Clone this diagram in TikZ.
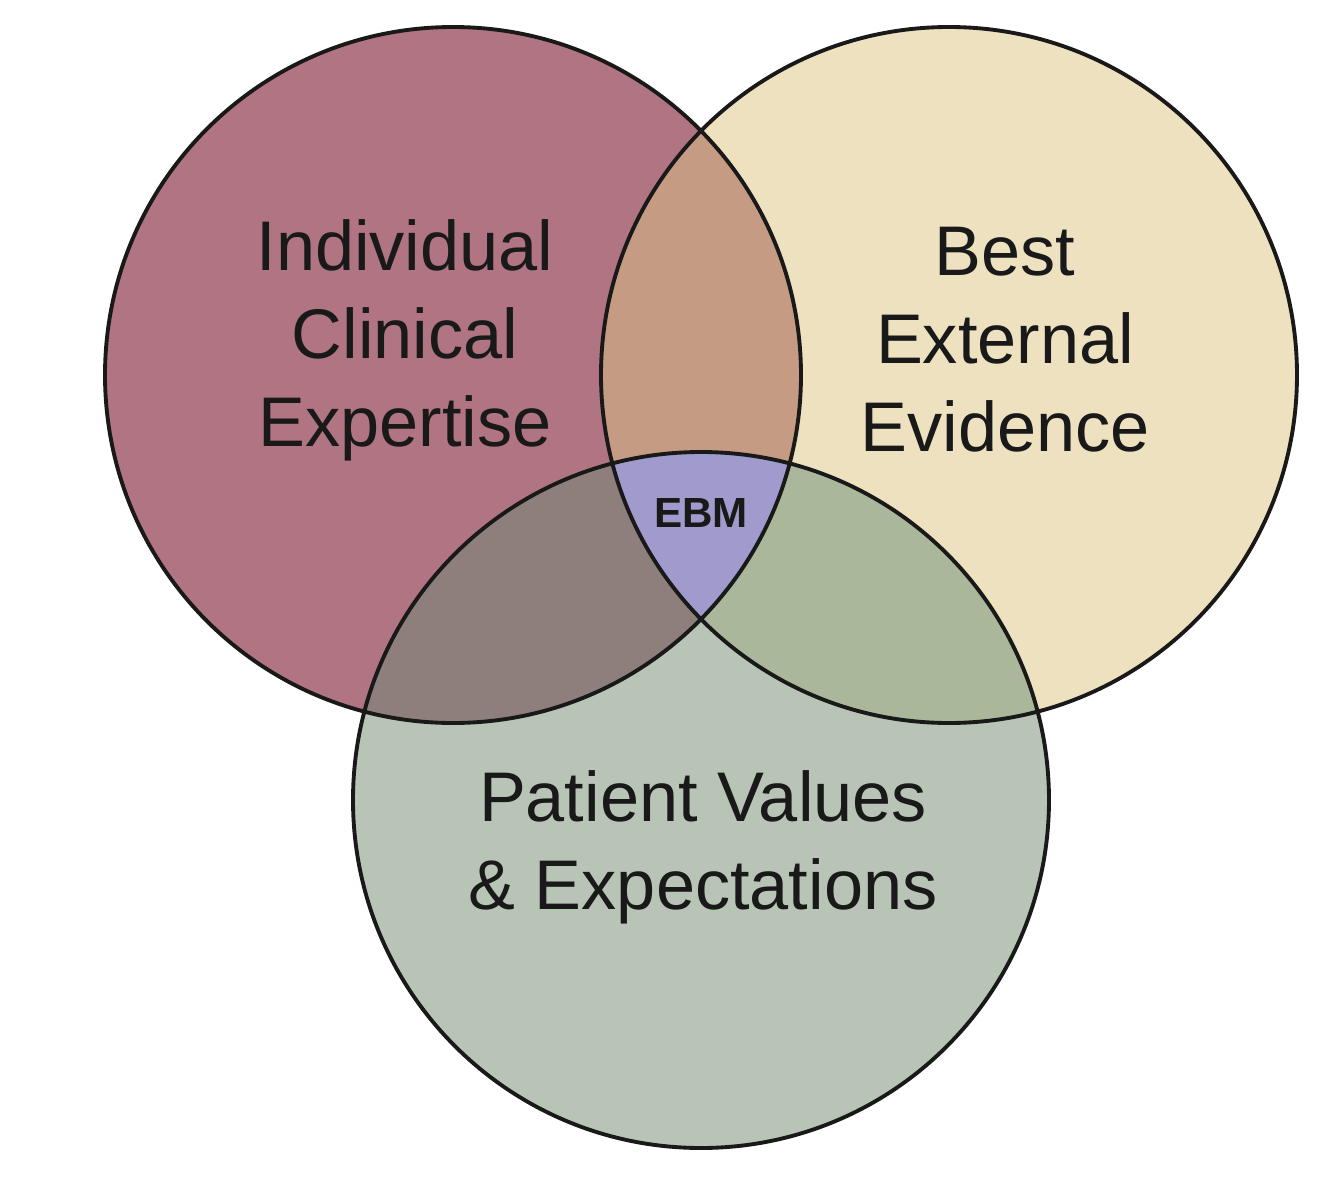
\documentclass[tikz,border=0pt]{standalone}
\usepackage{fontspec}
\setmainfont{Liberation Sans}
\begin{document}
\begin{tikzpicture}[x=0.02cm,y=-0.02cm,
  lbl/.style={align=center,font=\fontsize{40}{50}\selectfont,text=black!90}]
\useasboundingbox[fill=white] (0,0) rectangle (1340,1200);
\coordinate (L) at (453,375);
\coordinate (R) at (949,375);
\coordinate (B) at (701,800);
\def\rr{348}
\fill[fill={rgb,255:red,176;green,116;blue,130}] (L) circle[radius=\rr];
\fill[fill={rgb,255:red,238;green,225;blue,192}] (R) circle[radius=\rr];
\fill[fill={rgb,255:red,184;green,196;blue,182}] (B) circle[radius=\rr];
\begin{scope}\clip (L) circle[radius=\rr];
  \fill[fill={rgb,255:red,198;green,155;blue,132}] (R) circle[radius=\rr];
  \fill[fill={rgb,255:red,142;green,127;blue,124}] (B) circle[radius=\rr];
  \clip (R) circle[radius=\rr];
  \fill[fill={rgb,255:red,160;green,155;blue,204}] (B) circle[radius=\rr];
\end{scope}
\begin{scope}\clip (R) circle[radius=\rr];
  \clip (B) circle[radius=\rr];
  \fill[fill={rgb,255:red,170;green,183;blue,154}] (L) ++(-400,-400) rectangle ++(1200,1200);
  \clip (L) circle[radius=\rr];
  \fill[fill={rgb,255:red,160;green,155;blue,204}] (B) circle[radius=\rr];
\end{scope}
\draw[line width=2.2pt,black!90] (L) circle[radius=\rr] (R) circle[radius=\rr] (B) circle[radius=\rr];
\node[lbl] (tl) at (405,340) {Individual\\Clinical\\Expertise};
\node[lbl] (tr) at (1005,340) {Best\\External\\Evidence};
\node[lbl] (tb) at (703,847) {Patient Values\\\& Expectations};
\node[font=\fontsize{24}{28}\selectfont\bfseries,text=black!90] (ebm) at (701,513) {EBM};
\end{tikzpicture}
\end{document}
